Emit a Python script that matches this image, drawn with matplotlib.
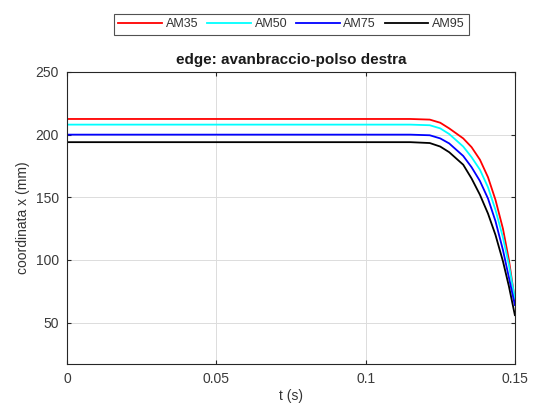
#!/usr/bin/env python3

import matplotlib
matplotlib.use('Agg')
import matplotlib.pyplot as plt

# tempo (s) e coordinata x (mm) per i quattro manichini
t = [0, 0.115, 0.1215, 0.125, 0.128, 0.1327, 0.1355, 0.1383,
     0.141, 0.1435, 0.146, 0.148, 0.15]
am35 = [212.5, 212.5, 212, 209.5, 205, 197, 190, 180,
        166, 148, 125, 100, 68]
am50 = [208, 208, 207.5, 205, 200.5, 190.5, 182, 172,
        158, 140, 118, 96, 69]
am75 = [200, 200, 199.5, 197, 193, 183, 174, 163,
        149, 131, 108, 86, 64]
am95 = [194, 194, 193.3, 190.5, 186, 176, 165, 152,
        137, 120, 99, 79, 56]

labels = ['AM35', 'AM50', 'AM75', 'AM95']
colors = ['#ff0000', '#00ffff', '#0000ff', '#000000']
xticks = [0, 0.05, 0.1, 0.15]
xticklabels = ['0', '0.05', '0.1', '0.15']
yticks = [50, 100, 150, 200, 250]

matplotlib.rcParams.update({'font.family': ['Liberation Sans', 'DejaVu Sans'],
                            'font.size': 10})

fig = plt.figure(figsize=(5.33, 4.18), dpi=100)
ax = fig.add_axes([0.1257, 0.1292, 0.8403, 0.6986])

for y, lab, c in zip([am35, am50, am75, am95], labels, colors):
    ax.plot(t, y, color=c, linewidth=1.3, label=lab)

ax.set_xlim(0, 0.15)
ax.set_ylim(17, 250)
ax.set_xticks(xticks)
ax.set_xticklabels(xticklabels)
ax.set_yticks(yticks)
ax.grid(color='#dcdcdc', linewidth=0.7)
ax.tick_params(direction='in', top=True, right=True, length=3,
               colors='#262626', labelcolor='#3a3a3a', labelsize=10, pad=6)
for s in ax.spines.values():
    s.set_color('#262626')
    s.set_linewidth(0.8)

ax.set_xlabel('t (s)', color='#333333', labelpad=2)
ax.set_ylabel('coordinata x (mm)', color='#333333')
ax.set_title('edge: avanbraccio-polso destra', fontweight='bold',
             fontsize=11, color='#1a1a1a', pad=6)

leg = fig.legend(loc='upper center', bbox_to_anchor=(0.547, 0.982), ncol=4,
                 fontsize=9, frameon=True, fancybox=False, handlelength=3.5,
                 columnspacing=0.7, handletextpad=0.3, borderpad=0.35)
leg.get_frame().set_edgecolor('#262626')
leg.get_frame().set_linewidth(0.8)
for txt in leg.get_texts():
    txt.set_color('#333333')

fig.savefig('out.png', dpi=100)
